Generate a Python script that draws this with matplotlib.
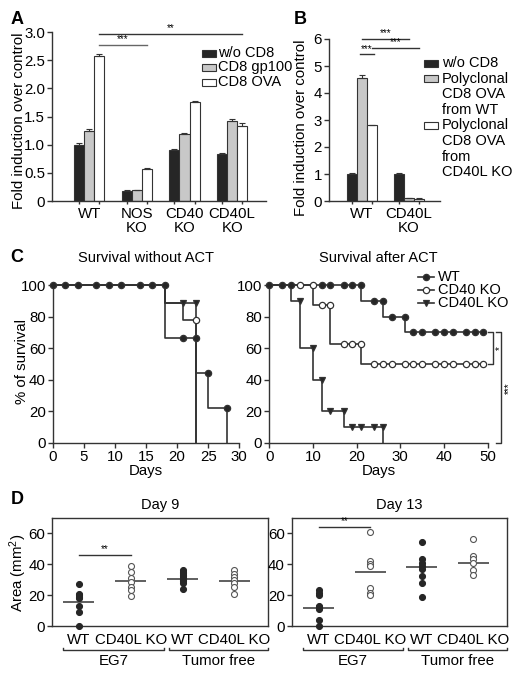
import matplotlib
matplotlib.use('Agg')
import matplotlib.pyplot as plt
from matplotlib.patches import Rectangle
from matplotlib.lines import Line2D
import matplotlib.transforms as mtransforms
import numpy as np

plt.rcParams['font.family'] = ['Liberation Sans', 'DejaVu Sans']
plt.rcParams['font.size'] = 10.8
plt.rcParams['mathtext.fontset'] = 'custom'
plt.rcParams['mathtext.rm'] = 'Liberation Sans'
plt.rcParams['mathtext.it'] = 'Liberation Sans:italic'

# ---------------- data ----------------
# Panel A
groups_A = ["WT", "NOS\nKO", "CD40\nKO", "CD40L\nKO"]
series_A_names = ["w/o CD8", "CD8 gp100", "CD8 OVA"]
a_wo = [1.00, 0.18, 0.90, 0.84]
a_wo_err = [0.03, 0.01, 0.02, 0.01]
a_gp100 = [1.24, 0.19, 1.19, 1.42]
a_gp100_err = [0.04, 0.01, 0.02, 0.04]
a_ova = [2.58, 0.57, 1.75, 1.33]
a_ova_err = [0.03, 0.02, 0.03, 0.05]
a_yticks = [0, 0.5, 1.0, 1.5, 2.0, 2.5, 3.0]
a_yticklabels = ["0", "0.5", "1.0", "1.5", "2.0", "2.5", "3.0"]

# Panel B
groups_B = ["WT", "CD40L\nKO"]
series_B_names = ["w/o CD8", "Polyclonal\nCD8 OVA\nfrom WT", "Polyclonal\nCD8 OVA\nfrom\nCD40L KO"]
b_wo = [1.00, 1.00]
b_wo_err = [0.05, 0.04]
b_wt = [4.57, 0.10]
b_wt_err = [0.08, 0.02]
b_ko = [2.80, 0.09]
b_ko_err = [0.03, 0.02]

# Panel C, left (survival without ACT)
cl_wt_days = [0, 18, 23, 25, 28]
cl_wt_surv = [100, 66.7, 44.4, 22.2, 0]
cl_wt_marks = [0, 2, 4, 7, 9, 11, 14, 16, 18, 21, 23, 25, 28]
cl_cd40_days = [0, 18, 21, 23]
cl_cd40_surv = [100, 88.9, 77.8, 0]
cl_cd40_marks = [23]
cl_cd40l_days = [0, 18, 23]
cl_cd40l_surv = [100, 88.9, 0]
cl_cd40l_marks = [21, 23]

# Panel C, right (survival after ACT)
cr_wt_days = [0, 21, 26, 31]
cr_wt_surv = [100, 90, 80, 70]
cr_wt_marks = [0, 3, 5, 12, 14, 17, 19, 21, 24, 26, 28, 31, 33, 35, 38, 40, 42, 45, 47, 49]
cr_cd40_days = [0, 10, 14, 21]
cr_cd40_surv = [100, 87.5, 62.5, 50]
cr_cd40_marks = [7, 10, 12, 14, 17, 19, 21, 24, 26, 28, 31, 33, 35, 38, 40, 42, 45, 47, 49]
cr_cd40l_days = [0, 5, 7, 10, 12, 17, 26]
cr_cd40l_surv = [100, 90, 60, 40, 20, 10, 0]
cr_cd40l_marks = [7, 10, 12, 14, 17, 19, 21, 24, 26]
surv_labels = ["WT", "CD40 KO", "CD40L KO"]

# Panel D
d_cats = ["WT", "CD40L KO", "WT", "CD40L KO"]
d_groups = ["EG7", "Tumor free"]
d9_wt_eg7 = [27, 21, 20, 19, 18, 13, 9, 0]
d9_ko_eg7 = [38.5, 35, 31, 28.5, 25, 23, 19.5]
d9_wt_tf = [36, 35, 34, 33, 32, 31, 30, 29, 28, 24]
d9_ko_tf = [36.5, 33.5, 31.5, 30, 28, 25.5, 21]
d9_lines = [15.5, 28.8, 30.6, 29.2]
d13_wt_eg7 = [23, 21.5, 20, 13, 12, 11, 4, 0]
d13_ko_eg7 = [60.5, 42, 40, 39, 24.5, 21.5, 20]
d13_wt_tf = [54, 43, 41, 39, 37, 32, 27.5, 18.5]
d13_ko_tf = [56, 45, 43, 41, 36.5, 33]
d13_lines = [11.8, 35.2, 38.3, 41.0]

# ---------------- figure ----------------
W, H = 521, 679
fig = plt.figure(figsize=(W / 100, H / 100), dpi=100)

def px_axes(l, t, r, b):
    return fig.add_axes([l / W, 1 - b / H, (r - l) / W, (b - t) / H])

def ftext(x, y, s, **kw):
    return fig.text(x / W, 1 - y / H, s, **kw)

DARK = '#262626'
GRAY = '#c8c8c8'
LINE = '#333333'
FS = 10.8
FT = 10.5
FL = 10.5

def style(ax, spines=('left', 'bottom')):
    for k, sp in ax.spines.items():
        if k in spines:
            sp.set_visible(True)
            sp.set_color(LINE)
            sp.set_linewidth(1.0)
        else:
            sp.set_visible(False)
    ax.tick_params(direction='out', length=3.5, width=1.0, color=LINE,
                   labelsize=FS, pad=1.5)
    ax.set_facecolor('none')

# ---------- Panel A ----------
axA = px_axes(52, 32, 266, 201)
style(axA)
bw = 0.21
xA = np.arange(len(groups_A))
colsA = [DARK, GRAY, 'white']
valsA = [(a_wo, a_wo_err), (a_gp100, a_gp100_err), (a_ova, a_ova_err)]
centersA = []
for i, ((v, e), c) in enumerate(zip(valsA, colsA)):
    xx = xA + (i - 1) * bw
    centersA.extend(xx)
    axA.bar(xx, v, bw, color=c, edgecolor=LINE, linewidth=0.8,
            yerr=[np.zeros(len(e)), e], capsize=2,
            error_kw=dict(elinewidth=0.8, capthick=0.8, ecolor=LINE))
axA.set_xlim(-0.78, 3.71)
axA.set_ylim(0, 3.0)
axA.set_yticks(a_yticks)
axA.set_yticklabels(a_yticklabels)
axA.set_xticks(xA)
axA.set_xticklabels(groups_A, linespacing=1.0)
axA.set_xticks(centersA, minor=True)
axA.tick_params(axis='x', which='major', length=0, pad=4)
axA.tick_params(axis='x', which='minor', length=2.5, width=1.0, color=LINE)
axA.set_ylabel("Fold induction over control", fontsize=FS)
axA.yaxis.set_label_coords(-0.121, 0.473)
ova_x = xA + bw
axA.plot([ova_x[0], ova_x[1]], [2.77, 2.77], color='#666666', lw=1.0, clip_on=False)
axA.text((ova_x[0] + ova_x[1]) / 2, 2.78, "***", ha='center', va='bottom', fontsize=7)
axA.plot([ova_x[0], ova_x[3]], [2.97, 2.97], color=LINE, lw=1.0, clip_on=False)
axA.text((ova_x[0] + ova_x[3]) / 2, 2.98, "**", ha='center', va='bottom', fontsize=7)

# legend A
for i, (name, c) in enumerate(zip(series_A_names, colsA)):
    yc = 53 + 14.5 * i
    fig.add_artist(Rectangle((202 / W, 1 - (yc + 3.5) / H), 14 / W, 7 / H,
                             transform=fig.transFigure, facecolor=c,
                             edgecolor=LINE, linewidth=0.8))
    ftext(218, yc, name, va='center', ha='left', fontsize=FL)

# ---------- Panel B ----------
axB = px_axes(329, 39, 440, 201)
style(axB)
xB = np.arange(len(groups_B))
colsB = [DARK, GRAY, 'white']
valsB = [(b_wo, b_wo_err), (b_wt, b_wt_err), (b_ko, b_ko_err)]
centersB = []
for i, ((v, e), c) in enumerate(zip(valsB, colsB)):
    xx = xB + (i - 1) * bw
    centersB.extend(xx)
    axB.bar(xx, v, bw, color=c, edgecolor=LINE, linewidth=0.8,
            yerr=[np.zeros(len(e)), e], capsize=2,
            error_kw=dict(elinewidth=0.8, capthick=0.8, ecolor=LINE))
axB.set_xlim(-0.70, 1.66)
axB.set_ylim(0, 6)
axB.set_yticks(range(7))
axB.set_xticks(xB)
axB.set_xticklabels(groups_B, linespacing=1.0)
axB.set_xticks(centersB, minor=True)
axB.tick_params(axis='x', which='major', length=0, pad=4)
axB.tick_params(axis='x', which='minor', length=2.5, width=1.0, color=LINE)
axB.set_ylabel("Fold induction over control", fontsize=FS)
axB.yaxis.set_label_coords(-0.19, 0.45)
gx = xB
wx = xB + bw
for (x0, x1, yy) in [(gx[0] - 0.05, wx[0] + 0.05, 5.44), (gx[0], gx[1], 6.0), (wx[0], wx[1], 5.67)]:
    axB.plot([x0, x1], [yy, yy], color=LINE, lw=1.0, clip_on=False)
    axB.text((x0 + x1) / 2, yy + 0.02, "***", ha='center', va='bottom', fontsize=7, clip_on=False)

# legend B
for i, (name, c) in enumerate(zip(series_B_names, colsB)):
    start = [0, 1, 4][i]
    for j, line in enumerate(name.split("\n")):
        ftext(442, 63 + 15.6 * (start + j), line, va='center', ha='left', fontsize=FL)
    yc = 63 + 15.6 * start
    fig.add_artist(Rectangle((424 / W, 1 - (yc + 3.5) / H), 14 / W, 7 / H,
                             transform=fig.transFigure, facecolor=c,
                             edgecolor=LINE, linewidth=0.8))

# ---------- Panel C ----------
def left_limit(days, surv, d):
    val = surv[0]
    for dd, ss in zip(days, surv):
        if dd < d:
            val = ss
    return val

def draw_surv(ax, days, surv, marks, end, marker, mfc, ms):
    x = list(days) + [end]
    y = list(surv) + [surv[-1]]
    ax.step(x, y, where='post', color=LINE, lw=1.2, clip_on=False, zorder=2)
    my = [left_limit(days, surv, d) for d in marks]
    ax.plot(marks, my, ls='none', marker=marker, ms=ms, mfc=mfc, mec=LINE,
            mew=0.9, clip_on=False, zorder=3)

axC1 = px_axes(52.7, 285, 239.3, 443)
style(axC1)
draw_surv(axC1, cl_cd40l_days, cl_cd40l_surv, cl_cd40l_marks, cl_cd40l_days[-1], 'v', DARK, 5)
draw_surv(axC1, cl_cd40_days, cl_cd40_surv, cl_cd40_marks, cl_cd40_days[-1], 'o', 'white', 4.5)
draw_surv(axC1, cl_wt_days, cl_wt_surv, cl_wt_marks, cl_wt_days[-1], 'o', DARK, 4.5)
axC1.set_xlim(0, 30)
axC1.set_ylim(0, 100)
axC1.set_xticks(range(0, 31, 5))
axC1.set_yticks(range(0, 101, 20))
axC1.set_xlabel("Days", fontsize=FS, labelpad=0)
axC1.set_ylabel("% of survival", fontsize=FS)
axC1.yaxis.set_label_coords(-0.127, 0.515)

axC2 = px_axes(269.3, 285, 487.7, 443)
style(axC2)
draw_surv(axC2, cr_cd40l_days, cr_cd40l_surv, cr_cd40l_marks, cr_cd40l_days[-1], 'v', DARK, 5)
draw_surv(axC2, cr_cd40_days, cr_cd40_surv, cr_cd40_marks, max(cr_cd40_marks), 'o', 'white', 4.5)
draw_surv(axC2, cr_wt_days, cr_wt_surv, cr_wt_marks, max(cr_wt_marks), 'o', DARK, 4.5)
axC2.set_xlim(0, 50)
axC2.set_ylim(0, 100)
axC2.set_xticks(range(0, 51, 10))
axC2.set_yticks(range(0, 101, 20))
axC2.set_xlabel("Days", fontsize=FS, labelpad=0)

# significance brackets (right panel)
wt_final = cr_wt_surv[-1]
cd40_final = cr_cd40_surv[-1]
cd40l_final = cr_cd40l_surv[-1]
for (xb, y0, y1, s) in [(51.1, wt_final, cd40_final, "*"), (53.0, wt_final, cd40l_final, "***")]:
    axC2.plot([xb - 1.0, xb, xb, xb - 1.0], [y0, y0, y1, y1], color=LINE, lw=1.0, clip_on=False)
    axC2.text(xb + 0.6, (y0 + y1) / 2, s, rotation=90, ha='left', va='center', fontsize=7, clip_on=False)

# legend C
leg_styles = [('o', DARK, 4.5), ('o', 'white', 4.5), ('v', DARK, 5)]
for i, (lab, (mk, mfc, ms)) in enumerate(zip(surv_labels, leg_styles)):
    yc = 277 + 12.8 * i
    fig.add_artist(Line2D([418 / W, 434 / W], [1 - yc / H, 1 - yc / H], transform=fig.transFigure,
                          color=LINE, lw=1.2))
    fig.add_artist(Line2D([426 / W], [1 - yc / H], transform=fig.transFigure, ls='none',
                          marker=mk, ms=ms, mfc=mfc, mec=LINE, mew=0.9))
    ftext(438, yc, lab, va='center', ha='left', fontsize=FL)

ftext(146, 258, "Survival without ACT", ha='center', va='center', fontsize=FT)
ftext(378.5, 258, "Survival after ACT", ha='center', va='center', fontsize=FT)

# ---------- Panel D ----------
def draw_D(ax, cols, lines, sig_y):
    style(ax, spines=('left', 'bottom', 'top', 'right'))
    pos = np.arange(1, 5)
    for p, vals in zip(pos, cols):
        filled = (p % 2 == 1)
        ax.plot([p] * len(vals), vals, ls='none', marker='o', ms=4.3,
                mfc=DARK if filled else 'white', mec=DARK if filled else '#555555',
                mew=0.8, clip_on=False, zorder=3)
    ax.hlines(lines, pos - 0.3, pos + 0.3, color='#444444', lw=1.2, zorder=2)
    ax.set_xlim(0.48, 4.65)
    ax.set_ylim(0, 70)
    ax.set_yticks([0, 20, 40, 60])
    ax.set_xticks(pos)
    ax.set_xticklabels(d_cats)
    ax.tick_params(axis='x', length=0, pad=5)
    ax.plot([1, 2], [sig_y, sig_y], color=LINE, lw=1.0)
    ax.text(1.5, sig_y + 0.5, "**", ha='center', va='bottom', fontsize=7)
    trans = mtransforms.blended_transform_factory(ax.transData, ax.transAxes)
    for (x0, x1), g in zip([(0.7, 2.64), (2.74, 4.65)], d_groups):
        ax.plot([x0, x0, x1, x1], [-0.205, -0.222, -0.222, -0.205], color=LINE, lw=1.0,
                transform=trans, clip_on=False)
        ax.text((x0 + x1) / 2, -0.325, g, ha='center', va='center', fontsize=FS, transform=trans)

axD1 = px_axes(52, 517.7, 268, 626)
draw_D(axD1, [d9_wt_eg7, d9_ko_eg7, d9_wt_tf, d9_ko_tf], d9_lines, 45.8)
axD1.set_ylabel("Area (mm$^2$)", fontsize=FS)
axD1.yaxis.set_label_coords(-0.106, 0.49)
axD2 = px_axes(291.7, 517.7, 506.7, 626)
draw_D(axD2, [d13_wt_eg7, d13_ko_eg7, d13_wt_tf, d13_ko_tf], d13_lines, 64)
ftext(160, 505, "Day 9", ha='center', va='center', fontsize=FT)
ftext(399, 505, "Day 13", ha='center', va='center', fontsize=FT)

# panel letters
for (x, y, s) in [(17, 20, "A"), (300, 20, "B"), (17, 257, "C"), (17, 500, "D")]:
    ftext(x, y, s, ha='center', va='center', fontsize=13, fontweight='bold')

fig.savefig("out.png", dpi=100)
